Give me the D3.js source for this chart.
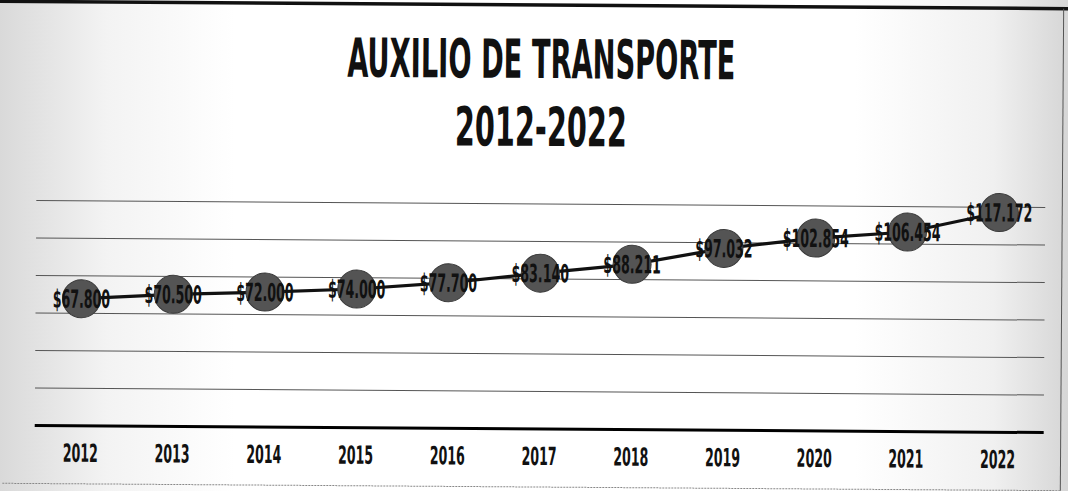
<!DOCTYPE html>
<html>
<head>
<meta charset="utf-8">
<script src="https://cdn.jsdelivr.net/npm/d3@7"></script>
<style>
  html, body { margin: 0; padding: 0; background: #fff; }
  svg { display: block; }
</style>
</head>
<body>
<svg id="chart" width="1068" height="491"></svg>
<script>
// Auxilio de transporte (COP) por año
const years = ["2012", "2013", "2014", "2015", "2016", "2017", "2018", "2019", "2020", "2021", "2022"];
const values = [67800, 70500, 72000, 74000, 77700, 83140, 88211, 97032, 102854, 106454, 117172];
const gridTicks = [0, 20000, 40000, 60000, 80000, 100000, 120000];
const titleLines = ["AUXILIO DE TRANSPORTE", "2012-2022"];

const W = 1068, H = 491;
const plot = { left: 36, right: 1045, top: 204, bottom: 429 };
const labelFont = "'DejaVu Sans Condensed', 'DejaVu Sans', sans-serif";

const svg = d3.select("#chart");

// paper tone: greyish towards the left and right edges
const defs = svg.append("defs");
const edge = defs.append("linearGradient").attr("id", "edgeShade")
  .attr("x1", 0).attr("x2", 1).attr("y1", 0).attr("y2", 0);
[[0, "#d9d9d9"], [0.1, "#f3f3f3"], [0.22, "#ffffff"], [0.8, "#ffffff"], [0.93, "#f0f0f0"], [1, "#d6d6d6"]]
  .forEach(([o, c]) => edge.append("stop").attr("offset", o).attr("stop-color", c));

svg.append("rect").attr("width", W).attr("height", H).attr("fill", "url(#edgeShade)");

const g = svg.append("g").attr("transform", `rotate(0.4 ${W / 2} ${H / 2})`);

// frame
g.append("line").attr("x1", -10).attr("x2", W + 10).attr("y1", 5).attr("y2", 5)
  .attr("stroke", "#111").attr("stroke-width", 3.5);
g.append("line").attr("x1", 1062).attr("x2", 1062).attr("y1", 5).attr("y2", 487)
  .attr("stroke", "#555").attr("stroke-width", 1);
g.append("line").attr("x1", 4).attr("x2", 1062).attr("y1", 487).attr("y2", 487)
  .attr("stroke", "#888").attr("stroke-width", 1).attr("stroke-dasharray", "2 1");

const x = d3.scaleBand().domain(years).range([plot.left, plot.right]);
const y = d3.scaleLinear().domain([0, 120000]).range([plot.bottom, plot.top]);
const cx = d => x(d) + x.bandwidth() / 2;

// horizontal gridlines
g.append("g").selectAll("line").data(gridTicks).join("line")
  .attr("x1", plot.left).attr("x2", plot.right)
  .attr("y1", d => y(d)).attr("y2", d => y(d))
  .attr("stroke", d => d === 0 ? "#000" : "#555")
  .attr("stroke-width", d => d === 0 ? 3 : 1);

// category axis labels
const xAxis = g.append("g").attr("transform", `translate(0,${plot.bottom})`)
  .call(d3.axisBottom(x).tickSize(0).tickPadding(0));
xAxis.select(".domain").remove();
xAxis.selectAll(".tick text").each(function () {
  const t = d3.select(this);
  const txt = t.text();
  const parent = d3.select(this.parentNode);
  t.remove();
  parent.append("text")
    .attr("transform", "translate(0,36) scale(0.56,1)")
    .attr("text-anchor", "middle")
    .attr("font-family", labelFont).attr("font-weight", "bold")
    .attr("font-size", 25).attr("fill", "#111")
    .text(txt);
});

const pts = years.map((yr, i) => ({ year: yr, value: values[i] }));

// connecting line
g.append("path").datum(pts)
  .attr("fill", "none").attr("stroke", "#111").attr("stroke-width", 3.2)
  .attr("d", d3.line().x(d => cx(d.year)).y(d => y(d.value)));

// markers
g.append("g").selectAll("circle").data(pts).join("circle")
  .attr("cx", d => cx(d.year)).attr("cy", d => y(d.value)).attr("r", 19)
  .attr("fill", "#545454").attr("stroke", "#3a3a3a").attr("stroke-width", 1);

// value labels
const fmt = v => "$" + d3.format(",")(v).replace(/,/g, ".");
g.append("g").selectAll("text").data(pts).join("text")
  .attr("transform", d => `translate(${cx(d.year)},${y(d.value) + 9}) scale(0.56,1)`)
  .attr("text-anchor", "middle")
  .attr("font-family", labelFont).attr("font-weight", "bold")
  .attr("font-size", 25).attr("fill", "#111")
  .text(d => fmt(d.value));

// title
g.append("text").attr("x", 540).attr("y", 78)
  .attr("text-anchor", "middle")
  .attr("font-family", labelFont).attr("font-weight", "bold")
  .attr("font-size", 54).attr("fill", "#111")
  .attr("textLength", 388).attr("lengthAdjust", "spacingAndGlyphs")
  .text(titleLines[0]);
g.append("text").attr("x", 540).attr("y", 146)
  .attr("text-anchor", "middle")
  .attr("font-family", labelFont).attr("font-weight", "bold")
  .attr("font-size", 54).attr("fill", "#111")
  .attr("textLength", 172).attr("lengthAdjust", "spacingAndGlyphs")
  .text(titleLines[1]);
</script>
</body>
</html>
